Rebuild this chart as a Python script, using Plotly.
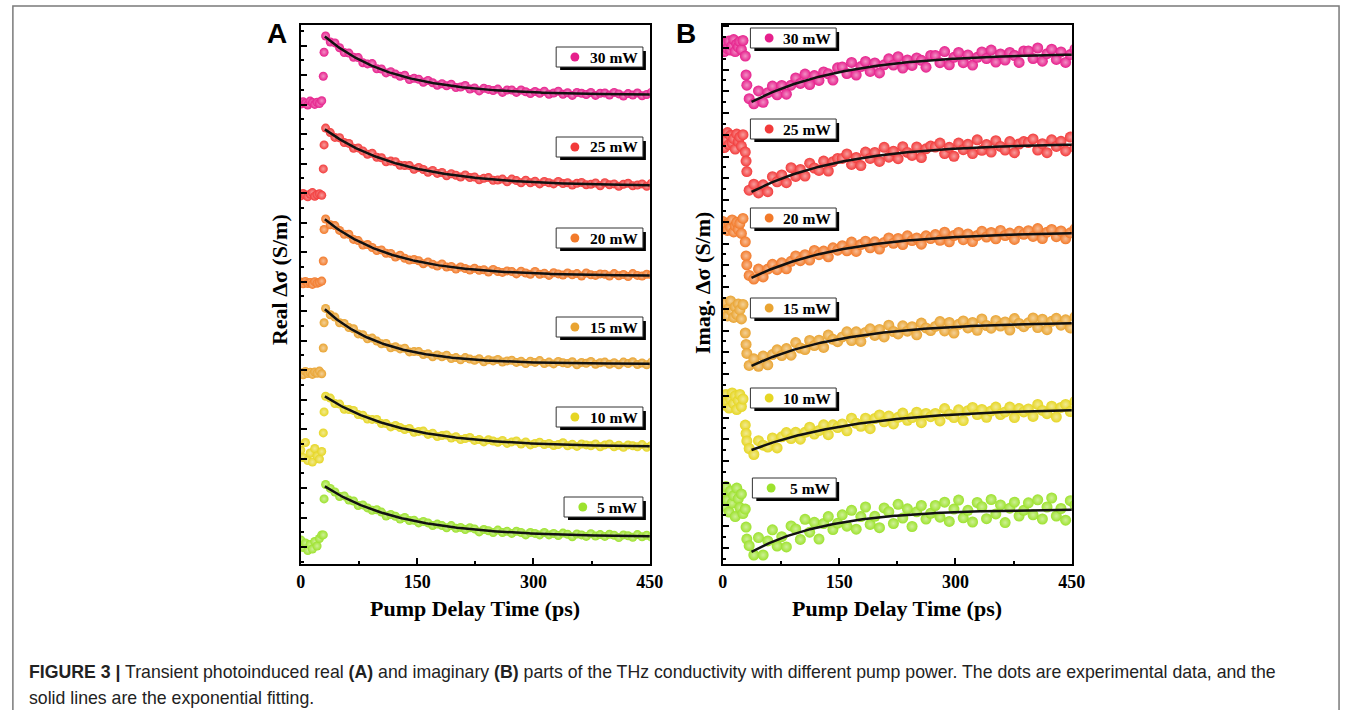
import numpy as np
import plotly.graph_objects as go

W, H = 1356, 710

# ---------------- pump-delay grids (ps) ----------------
delay_real = [0, 3, 6, 9, 12, 15, 18, 21, 24, 27, 29, 30] + list(range(32, 453, 6))
delay_imag = list(range(0, 27, 2)) + [29, 30, 31] + list(range(34, 455, 6))

powers = ["30 mW", "25 mW", "20 mW", "15 mW", "10 mW", "5 mW"]
colors = ["#E6208C", "#F23B3B", "#F27A2A", "#E9A432", "#E6D624", "#9DE22E"]

# ---------------- real part (relative to each trace's plateau) ----------------
real_30mW = [-0.30, -0.22, -0.27, -0.33, -0.20, -0.25, -0.31, -0.24, -0.28, -0.19, 0.63, 1.43,
             1.97, 1.77, 1.74, 1.58, 1.42, 1.40, 1.26, 1.25, 1.08, 1.04,
             1.05, 0.88, 0.87, 0.74, 0.78, 0.70, 0.63, 0.66, 0.52, 0.56,
             0.53, 0.43, 0.49, 0.41, 0.33, 0.38, 0.31, 0.36, 0.25, 0.27,
             0.32, 0.20, 0.24, 0.14, 0.23, 0.19, 0.15, 0.20, 0.09, 0.17,
             0.17, 0.09, 0.17, 0.11, 0.05, 0.12, 0.06, 0.13, 0.03, 0.07,
             0.13, 0.03, 0.08, -0.01, 0.09, 0.06, 0.02, 0.09, -0.01, 0.06,
             0.07, 0.00, 0.09, 0.04, -0.03, 0.05, 0.00, 0.07, -0.02, 0.02,
             0.09]
real_25mW = [-0.33, -0.25, -0.30, -0.36, -0.27, -0.22, -0.34, -0.29, -0.26, -0.31, 0.57, 1.37,
             1.93, 1.78, 1.62, 1.61, 1.45, 1.42, 1.26, 1.27, 1.17, 1.06,
             1.09, 0.96, 0.94, 0.81, 0.83, 0.81, 0.69, 0.68, 0.68, 0.56,
             0.62, 0.55, 0.46, 0.52, 0.42, 0.45, 0.34, 0.41, 0.36, 0.30,
             0.37, 0.28, 0.30, 0.21, 0.26, 0.28, 0.19, 0.20, 0.23, 0.14,
             0.23, 0.18, 0.11, 0.19, 0.11, 0.16, 0.07, 0.15, 0.11, 0.07,
             0.15, 0.08, 0.11, 0.03, 0.09, 0.12, 0.04, 0.06, 0.10, 0.01,
             0.11, 0.04, 0.07, -0.01, 0.06, 0.09, 0.01, 0.03, 0.07, -0.01,
             0.09]
real_20mW = [-0.20, -0.26, -0.18, -0.25, -0.22, -0.28, -0.19, -0.24, -0.21, -0.17, 0.50, 1.55,
             1.90, 1.71, 1.68, 1.52, 1.39, 1.39, 1.22, 1.18, 1.03, 1.05,
             0.95, 0.85, 0.87, 0.76, 0.75, 0.63, 0.69, 0.59, 0.53, 0.55,
             0.51, 0.41, 0.47, 0.39, 0.33, 0.40, 0.30, 0.32, 0.23, 0.30,
             0.25, 0.20, 0.26, 0.19, 0.21, 0.13, 0.22, 0.15, 0.12, 0.17,
             0.15, 0.07, 0.16, 0.10, 0.06, 0.15, 0.06, 0.09, 0.02, 0.11,
             0.07, 0.03, 0.10, 0.04, 0.08, 0.00, 0.10, 0.04, 0.02, 0.07,
             0.06, 0.00, 0.08, 0.01, 0.05, -0.02, 0.08, 0.02, 0.00, 0.06,
             0.04]
real_15mW = [-0.30, -0.36, -0.25, -0.32, -0.28, -0.35, -0.27, -0.31, -0.24, -0.33, 0.53, 1.37,
             1.85, 1.64, 1.56, 1.37, 1.35, 1.21, 1.17, 1.00, 0.97, 0.84,
             0.86, 0.76, 0.67, 0.68, 0.54, 0.57, 0.50, 0.52, 0.40, 0.41,
             0.41, 0.31, 0.34, 0.24, 0.30, 0.24, 0.29, 0.18, 0.21, 0.14,
             0.21, 0.16, 0.12, 0.17, 0.07, 0.14, 0.10, 0.15, 0.06, 0.10,
             0.12, 0.05, 0.09, 0.01, 0.09, 0.05, 0.11, 0.01, 0.06, 0.00,
             0.08, 0.04, 0.01, 0.07, -0.03, 0.05, 0.02, 0.08, -0.01, 0.04,
             0.06, -0.01, 0.04, -0.03, 0.06, 0.01, 0.07, -0.02, 0.03, -0.03,
             0.06]
real_10mW = [-0.10, -0.35, 0.15, -0.45, -0.20, -0.50, -0.05, -0.30, -0.40, -0.15, 0.47, 1.17,
             1.69, 1.63, 1.45, 1.43, 1.26, 1.25, 1.22, 1.08, 1.06, 0.93,
             0.92, 0.92, 0.78, 0.78, 0.67, 0.72, 0.65, 0.58, 0.62, 0.49,
             0.52, 0.53, 0.42, 0.46, 0.35, 0.38, 0.40, 0.30, 0.34, 0.25,
             0.28, 0.32, 0.22, 0.25, 0.17, 0.24, 0.20, 0.16, 0.22, 0.12,
             0.17, 0.20, 0.10, 0.17, 0.07, 0.12, 0.16, 0.08, 0.12, 0.05,
             0.08, 0.14, 0.04, 0.09, 0.02, 0.10, 0.07, 0.04, 0.10, 0.01,
             0.07, 0.10, 0.01, 0.06, -0.01, 0.07, 0.04, 0.01, 0.08, -0.01,
             0.05]
real_5mW = [-0.10, -0.35, -0.20, -0.45, -0.25, -0.40, -0.15, -0.30, -0.05, 0.07, 0.07, 1.27,
            1.75, 1.62, 1.50, 1.35, 1.37, 1.23, 1.20, 1.05, 1.07, 0.97,
            0.89, 0.91, 0.83, 0.70, 0.75, 0.69, 0.60, 0.65, 0.55, 0.56,
            0.47, 0.52, 0.47, 0.38, 0.43, 0.38, 0.31, 0.38, 0.29, 0.32,
            0.25, 0.31, 0.27, 0.17, 0.25, 0.21, 0.15, 0.23, 0.15, 0.19,
            0.12, 0.19, 0.15, 0.07, 0.15, 0.12, 0.07, 0.15, 0.07, 0.12,
            0.05, 0.13, 0.09, 0.01, 0.10, 0.07, 0.02, 0.11, 0.03, 0.08,
            0.02, 0.09, 0.06, -0.02, 0.07, 0.04, -0.01, 0.08, 0.01, 0.06,
            0.00]

# ---------------- imaginary part (relative to each trace's plateau) ----------------
imag_30mW = [0.30, 0.05, 0.35, 0.15, 0.40, 0.10, 0.25, 0.45, 0.05, 0.30, 0.20, 0.38, 0.12, 0.42,
             -0.10, -0.73, -1.07,
             -1.52, -1.69, -1.26, -1.64, -1.32, -1.10, -1.39, -1.08, -1.37, -1.07,
             -0.83, -1.01, -0.70, -1.05, -0.75, -0.91, -0.63, -0.69, -0.90, -0.49,
             -0.46, -0.68, -0.31, -0.73, -0.45, -0.28, -0.61, -0.33, -0.66, -0.39,
             -0.19, -0.40, -0.12, -0.50, -0.23, -0.41, -0.16, -0.24, -0.47, -0.08,
             -0.08, -0.32, 0.05, -0.39, -0.14, 0.02, -0.32, -0.06, -0.40, -0.14,
             0.04, -0.18, 0.10, -0.30, -0.03, -0.23, 0.02, -0.08, -0.31, 0.07,
             0.07, -0.18, 0.17, -0.27, -0.02, 0.13, -0.21, 0.04, -0.31, -0.05,
             0.13]
imag_25mW = [0.20, -0.15, 0.10, 0.35, -0.05, 0.25, 0.00, 0.15, -0.20, 0.30, 0.05, 0.20, -0.10, 0.28,
             -0.30, -0.60, -0.95,
             -1.57, -1.37, -1.66, -1.39, -1.62, -1.12, -1.29, -1.06, -1.32, -0.82,
             -1.11, -0.88, -1.10, -0.67, -0.83, -0.91, -0.60, -0.93, -0.62, -0.51,
             -0.51, -0.36, -0.71, -0.48, -0.75, -0.30, -0.51, -0.31, -0.61, -0.14,
             -0.47, -0.27, -0.52, -0.12, -0.31, -0.41, -0.13, -0.48, -0.19, -0.10,
             -0.13, 0.00, -0.35, -0.14, -0.44, 0.00, -0.22, -0.04, -0.35, 0.11,
             -0.24, -0.05, -0.30, 0.08, -0.11, -0.23, 0.05, -0.32, -0.03, 0.05,
             0.02, 0.14, -0.23, -0.02, -0.32, 0.11, -0.11, 0.06, -0.26, 0.20,
             -0.15]
imag_20mW = [0.35, 0.10, 0.25, 0.05, 0.30, 0.15, 0.40, 0.00, 0.20, 0.32, 0.08, 0.28, -0.05, 0.45,
             -0.33, -0.80, -1.10,
             -1.45, -1.57, -1.24, -1.50, -1.24, -1.08, -1.26, -1.03, -1.23, -0.98,
             -0.80, -0.96, -0.76, -0.94, -0.62, -0.76, -0.64, -0.83, -0.53, -0.61,
             -0.46, -0.63, -0.34, -0.65, -0.42, -0.31, -0.53, -0.33, -0.57, -0.35,
             -0.20, -0.38, -0.22, -0.42, -0.13, -0.29, -0.20, -0.41, -0.13, -0.22,
             -0.09, -0.28, -0.01, -0.33, -0.12, -0.02, -0.26, -0.07, -0.32, -0.12,
             0.02, -0.17, -0.02, -0.23, 0.05, -0.12, -0.04, -0.25, 0.02, -0.08,
             0.04, -0.15, 0.11, -0.22, -0.01, 0.08, -0.16, 0.03, -0.23, -0.03,
             0.10]
imag_15mW = [0.55, 0.30, 0.65, 0.20, 0.45, 0.70, 0.35, 0.15, 0.50, 0.25, 0.60, 0.40, 0.10, 0.58,
             -0.37, -0.75, -1.05,
             -1.45, -1.23, -1.48, -1.14, -1.43, -1.09, -0.93, -1.12, -0.89, -1.11,
             -0.69, -0.87, -0.92, -0.62, -0.79, -0.61, -0.85, -0.44, -0.58, -0.66,
             -0.50, -0.33, -0.62, -0.33, -0.65, -0.35, -0.23, -0.45, -0.25, -0.50,
             -0.11, -0.32, -0.40, -0.13, -0.31, -0.16, -0.43, -0.04, -0.20, -0.29,
             -0.15, 0.01, -0.30, -0.02, -0.37, -0.08, 0.03, -0.20, -0.02, -0.28,
             0.10, -0.12, -0.21, 0.05, -0.14, 0.00, -0.27, 0.11, -0.05, -0.16,
             -0.03, 0.13, -0.19, 0.09, -0.26, 0.02, 0.12, -0.11, 0.07, -0.20,
             0.17]
imag_10mW = [0.35, 0.10, 0.45, 0.20, 0.00, 0.30, 0.50, 0.15, 0.40, -0.05, 0.25, 0.45, 0.05, 0.30,
             -0.57, -0.85, -1.10,
             -1.35, -1.55, -1.09, -1.24, -1.30, -1.00, -1.33, -0.96, -0.82, -1.02,
             -0.81, -1.04, -0.81, -0.64, -0.87, -0.75, -0.56, -0.89, -0.56, -0.65,
             -0.53, -0.76, -0.34, -0.51, -0.61, -0.34, -0.69, -0.35, -0.23, -0.46,
             -0.27, -0.53, -0.31, -0.17, -0.41, -0.32, -0.14, -0.49, -0.18, -0.29,
             -0.18, -0.43, -0.02, -0.21, -0.32, -0.06, -0.42, -0.09, 0.02, -0.22,
             -0.05, -0.31, -0.10, 0.03, -0.22, -0.13, 0.03, -0.32, -0.02, -0.13,
             -0.03, -0.28, 0.12, -0.08, -0.19, 0.06, -0.30, 0.02, 0.12, -0.12,
             0.22]
imag_5mW = [0.55, 0.10, 0.75, 0.30, -0.10, 0.60, 0.20, 0.45, -0.25, 0.70, 0.35, 0.05, 0.50, -0.15,
            0.00, -0.60, -1.00,
            -1.22, -1.53, -0.95, -1.53, -1.06, -0.69, -1.23, -0.92, -1.26, -0.56,
            -0.66, -1.01, -0.34, -0.77, -0.44, -1.00, -0.48, -0.25, -0.68, -0.47,
            -0.19, -0.57, -0.04, -0.67, -0.25, 0.07, -0.51, -0.24, -0.62, 0.04,
            -0.09, -0.48, 0.16, -0.30, 0.01, -0.58, -0.09, 0.12, -0.33, -0.14,
            0.12, -0.27, 0.23, -0.41, 0.00, 0.30, -0.29, -0.04, -0.43, 0.22,
            0.08, -0.32, 0.32, -0.16, 0.14, -0.45, 0.03, 0.23, -0.23, -0.04,
            0.21, -0.19, 0.31, -0.33, 0.07, 0.37, -0.23, 0.02, -0.37, 0.28,
            0.13]

# vertical stacking offsets (a.u.)
real_offsets = [15.63, 12.60, 9.60, 6.67, 3.90, 0.90]
imag_offsets = [17.03, 14.03, 11.07, 8.07, 5.20, 1.83]

# single-exponential fits: amplitude, decay constant (ps), onset (ps)
real_fit_amp = [1.93, 1.87, 1.87, 1.80, 1.67, 1.67]
real_fit_tau = [88, 100, 88, 75, 100, 100]
real_fit_t0 = 32
imag_fit_amp = [1.67, 1.67, 1.57, 1.50, 1.43, 1.47]
imag_fit_tau = [120, 120, 120, 120, 140, 100]
imag_fit_t0 = 34

real_series = [real_30mW, real_25mW, real_20mW, real_15mW, real_10mW, real_5mW]
imag_series = [imag_30mW, imag_25mW, imag_20mW, imag_15mW, imag_10mW, imag_5mW]

# ---------------- geometry (pixels) ----------------
A_LEFT, A_RIGHT = 300, 654
B_LEFT, B_RIGHT = 728, 1082
P_TOP, P_BOT = 25, 564
UNIT = 30.0  # pixels per a.u.
Y_MAX = (P_BOT - P_TOP) / UNIT


def px(x):
    return x / W


def py(y):
    return 1 - y / H


def tint(hex_color, f):
    h = hex_color.lstrip("#")
    r, g, b = (int(h[i:i + 2], 16) for i in (0, 2, 4))
    r, g, b = (int(c + (255 - c) * f) for c in (r, g, b))
    return f"rgb({r},{g},{b})"


fig = go.Figure()

for i in range(6):
    c = colors[i]
    fig.add_trace(go.Scatter(
        x=delay_real, y=np.array(real_series[i]) + real_offsets[i],
        mode="markers", xaxis="x", yaxis="y",
        marker=dict(size=9, color=c, line=dict(width=0),
                    gradient=dict(type="radial", color=tint(c, 0.5))),
        showlegend=False, cliponaxis=True))
    tf = np.linspace(real_fit_t0 - 1, 450, 200)
    fig.add_trace(go.Scatter(
        x=tf, y=real_offsets[i] + real_fit_amp[i] * np.exp(-(tf - real_fit_t0) / real_fit_tau[i]),
        mode="lines", xaxis="x", yaxis="y", line=dict(color="#111", width=2.5),
        showlegend=False))

    fig.add_trace(go.Scatter(
        x=delay_imag, y=np.array(imag_series[i]) + imag_offsets[i],
        mode="markers", xaxis="x2", yaxis="y2",
        marker=dict(size=11, color=c, line=dict(width=0),
                    gradient=dict(type="radial", color=tint(c, 0.5))),
        showlegend=False, cliponaxis=True))
    tf = np.linspace(imag_fit_t0 + 3, 450, 200)
    fig.add_trace(go.Scatter(
        x=tf, y=imag_offsets[i] - imag_fit_amp[i] * np.exp(-(tf - imag_fit_t0) / imag_fit_tau[i]),
        mode="lines", xaxis="x2", yaxis="y2", line=dict(color="#111", width=2.5),
        showlegend=False))

tick_font = dict(family="Liberation Serif", size=18, color="black", weight="bold")
x_common = dict(range=[0, 450], tickvals=[0, 150, 300, 450], ticks="inside", ticklen=6,
                tickwidth=1.5, tickcolor="black", showline=True, linewidth=2, linecolor="black",
                mirror=True, showgrid=False, zeroline=False, tickfont=tick_font,
                minor=dict(dtick=75, tick0=0, ticks="inside", ticklen=3, tickcolor="black",
                           showgrid=False))
y_common = dict(range=[0, Y_MAX], showticklabels=False, ticks="inside", ticklen=6,
                tickwidth=1.5, tickcolor="black", showline=True, linewidth=2, linecolor="black",
                mirror=True, showgrid=False, zeroline=False,
                domain=[py(P_BOT), py(P_TOP)])

fig.update_layout(
    width=W, height=H, margin=dict(l=0, r=0, t=0, b=0),
    paper_bgcolor="white", plot_bgcolor="white",
    xaxis=dict(domain=[px(A_LEFT), px(A_RIGHT)], anchor="y", **x_common),
    yaxis=dict(anchor="x", tick0=0.567, dtick=0.983,
               minor=dict(tick0=0.567 + 0.4915, dtick=0.983, ticks="inside", ticklen=3,
                          tickcolor="black", showgrid=False),
               **y_common),
    xaxis2=dict(domain=[px(B_LEFT), px(B_RIGHT)], anchor="y2", **x_common),
    yaxis2=dict(anchor="x2", tick0=0.533, dtick=0.725,
                minor=dict(tick0=0.533 + 0.3625, dtick=0.725, ticks="inside", ticklen=3,
                           tickcolor="black", showgrid=False),
                **y_common),
)

shapes = []
annotations = []

# outer frame of the figure
shapes.append(dict(type="rect", xref="paper", yref="paper", x0=px(8), x1=px(1353),
                   y0=-0.05, y1=py(6), line=dict(color="#7a7a7a", width=1.5), layer="below"))

# legend boxes with drop shadow
real_boxes = [(559, 47), (559, 137), (559, 228), (559, 317), (559, 407), (567, 497)]
imag_boxes = [(756, 28), (756, 119), (756, 208), (756, 298), (756, 388), (758, 478)]
real_box_right, imag_box_right = 647, 843
BOX_H = 20

for boxes, right in ((real_boxes, real_box_right), (imag_boxes, imag_box_right)):
    for i, (bx, by) in enumerate(boxes):
        shapes.append(dict(type="rect", xref="paper", yref="paper",
                           x0=px(bx + 4), x1=px(right + 3), y0=py(by + BOX_H + 3), y1=py(by + 4),
                           line=dict(width=0), fillcolor="black", layer="above"))
        shapes.append(dict(type="rect", xref="paper", yref="paper",
                           x0=px(bx), x1=px(right), y0=py(by + BOX_H), y1=py(by),
                           line=dict(color="#333", width=1), fillcolor="white", layer="above"))
        cx = bx + 19
        cy = by + BOX_H / 2
        shapes.append(dict(type="circle", xref="paper", yref="paper",
                           x0=px(cx - 4.5), x1=px(cx + 4.5), y0=py(cy + 4.5), y1=py(cy - 4.5),
                           line=dict(width=0), fillcolor=colors[i], layer="above"))
        annotations.append(dict(text=powers[i], xref="paper", yref="paper",
                                x=px(right - 3), y=py(cy), xanchor="right", yanchor="middle",
                                showarrow=False,
                                font=dict(family="Liberation Serif", size=15.5, color="black",
                                          weight="bold")))

title_font = dict(family="Liberation Serif", size=22, color="black", weight="bold")
annotations += [
    dict(text="Pump Delay Time (ps)", xref="paper", yref="paper", x=px((A_LEFT + A_RIGHT) / 2),
         y=py(608), xanchor="center", yanchor="middle", showarrow=False, font=title_font),
    dict(text="Pump Delay Time (ps)", xref="paper", yref="paper", x=px((B_LEFT + B_RIGHT) / 2),
         y=py(608), xanchor="center", yanchor="middle", showarrow=False, font=title_font),
    dict(text="Real \u0394\u03c3 (S/m)", xref="paper", yref="paper", x=px(279), y=py(280),
         xanchor="center", yanchor="middle", textangle=-90, showarrow=False, font=title_font),
    dict(text="Imag. \u0394\u03c3 (S/m)", xref="paper", yref="paper", x=px(707), y=py(283),
         xanchor="center", yanchor="middle", textangle=-90, showarrow=False, font=title_font),
    dict(text="A", xref="paper", yref="paper", x=px(276), y=py(33), xanchor="center",
         yanchor="middle", showarrow=False,
         font=dict(family="Liberation Sans", size=28, color="black", weight="bold")),
    dict(text="B", xref="paper", yref="paper", x=px(691), y=py(33), xanchor="center",
         yanchor="middle", showarrow=False,
         font=dict(family="Liberation Sans", size=28, color="black", weight="bold")),
    dict(text="<b>FIGURE 3 |</b> Transient photoinduced real <b>(A)</b> and imaginary <b>(B)</b> "
              "parts of the THz conductivity with different pump power. The dots are experimental "
              "data, and the",
         xref="paper", yref="paper", x=px(22), y=py(672), xanchor="left", yanchor="middle",
         showarrow=False, font=dict(family="Liberation Sans", size=17.7, color="#222")),
    dict(text="solid lines are the exponential fitting.",
         xref="paper", yref="paper", x=px(22), y=py(698), xanchor="left", yanchor="middle",
         showarrow=False, font=dict(family="Liberation Sans", size=17.7, color="#222")),
]

fig.update_layout(shapes=shapes, annotations=annotations)
fig.write_html("out.html")
